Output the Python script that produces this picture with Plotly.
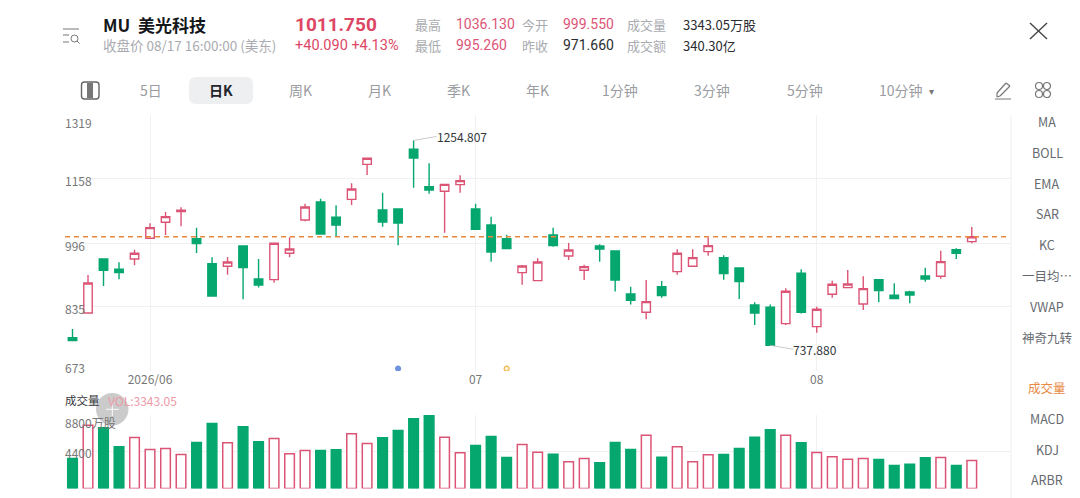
import plotly.graph_objects as go

# ---------- data ----------
indices = list(range(59))
opens = [757.2,819.4,955.7,929.6,955.7,1007.8,1048.2,1075.1,1007.0,943.9,937.2,988.5,905.2,903.5,970.0,1054.1,1099.5,1060.8,1106.2,1194.5,
         1079.3,1081.8,1232.4,1138.2,1126.4,1143.2,1081.8,1041.5,1007.0,921.2,901.0,1016.2,963.2,927.1,988.5,975.9,867.4,821.1,885.9,923.7,
         937.2,974.2,959.0,933.0,839.6,833.7,792.5,919.5,784.9,866.5,883.3,842.1,903.5,864.0,872.4,912.8,912.0,979.2,999.55]
highs = [779.1,915.3,955.7,947.3,979.2,1045.7,1074.3,1086.0,1034.7,959.9,960.7,988.5,955.7,995.2,1010.3,1095.3,1107.9,1091.1,1146.6,1210.5,
         1123.0,1081.8,1254.807,1197.0,1145.7,1166.8,1095.3,1062.5,1017.1,940.5,957.4,1034.7,996.0,941.4,992.7,975.9,885.9,902.7,900.2,980.1,
         980.1,1010.3,964.9,933.0,846.3,840.5,881.7,929.6,835.4,901.0,927.9,911.9,903.5,894.3,875.8,933.8,976.7,982.6,1036.13]
lows = [748.0,819.4,887.6,904.4,939.7,1007.8,1016.2,1038.1,970.8,862.3,916.1,853.9,883.4,896.0,959.9,1050.7,1018.7,1012.0,1091.9,1167.6,
        1037.2,990.2,1135.6,1120.5,1022.1,1123.0,1030.5,949.0,980.1,890.9,901.0,986.8,953.2,902.7,949.0,873.3,840.5,803.5,858.1,916.1,
        937.2,964.1,903.5,854.8,789.2,737.88,789.2,817.8,769.8,858.1,881.7,827.0,846.3,854.8,843.8,898.5,906.1,955.7,995.26]
closes = [749.6,895.1,927.1,921.2,970.0,1034.7,1062.5,1078.5,994.4,862.3,948.1,933.8,890.1,995.2,980.9,1086.9,1018.7,1041.5,1132.3,1209.7,
          1049.0,1046.5,1210.5,1129.8,1144.0,1153.3,1030.5,973.3,981.7,938.0,948.1,989.3,978.4,936.3,980.9,902.7,851.4,848.0,863.2,970.0,
          959.0,989.3,918.7,898.5,819.4,737.88,874.1,821.1,828.7,891.8,892.6,880.8,875.8,855.6,864.9,905.2,949.0,970.0,1011.75]
volumes = [3568,7532,7214,4955,6065,4638,4757,4043,5470,7730,5431,7333,5550,5946,4123,4519,4519,4598,6501,5351,
           6025,6897,8285,8642,6105,4241,5114,6184,3687,5232,4321,4083,3171,3568,3052,5470,4638,6342,3726,4955,
           3171,4004,4043,4757,6105,6977,6342,5431,4281,3766,3488,3568,3449,2735,2894,3647,3687,2735,3343.05]
last_close = 1011.75
price_ticks = [673, 835, 996, 1158, 1319]
vol_ticks = [0, 4400, 8800]
month_idx = [5, 26, 48]
month_labels = ["2026/06", "07", "08"]
event_idx = [21, 28]
event_price = [679, 679]
tabs = ["5日", "日K", "周K", "月K", "季K", "年K", "1分钟", "3分钟", "5分钟", "10分钟"]
side_menu = ["MA", "BOLL", "EMA", "SAR", "KC", "一目均…", "VWAP", "神奇九转", "成交量", "MACD", "KDJ", "ARBR"]

# ---------- styles ----------
W, H = 1080, 498
RED = "#dc5475"
GREEN = "#05a76e"
GRID = "#f0f1f2"
FONT = "Noto Sans CJK SC"
NUM_FONT = "Roboto"
px = lambda p: p / W
py = lambda p: 1 - p / H

fig = go.Figure()
fig.add_trace(go.Candlestick(
    x=indices, open=opens, high=highs, low=lows, close=closes,
    xaxis="x", yaxis="y", whiskerwidth=0,
    increasing=dict(line=dict(color=RED, width=1.4), fillcolor="white"),
    decreasing=dict(line=dict(color=GREEN, width=1.4), fillcolor=GREEN),
    showlegend=False,
))
fig.add_trace(go.Bar(
    x=indices, y=volumes, xaxis="x2", yaxis="y2", width=0.62,
    marker=dict(
        color=["white" if c >= o else GREEN for o, c in zip(opens, closes)],
        line=dict(color=[RED if c >= o else GREEN for o, c in zip(opens, closes)], width=1.5),
    ),
    showlegend=False,
))
fig.add_trace(go.Scatter(
    x=event_idx, y=event_price, xaxis="x", yaxis="y", mode="markers",
    marker=dict(size=5, color=["#6f93dd", "#fff4d8"], line=dict(color=["#6f93dd", "#f2b544"], width=1.2)),
    showlegend=False,
))

xrange = [-0.484, 60.53]
xcommon = dict(domain=[65 / W, 1011 / W], range=xrange, showgrid=True, gridcolor=GRID, gridwidth=1,
               zeroline=False, showline=False, ticks="", tickmode="array", tickvals=month_idx,
               fixedrange=True)
fig.update_layout(
    width=W, height=H, autosize=False, margin=dict(l=0, r=0, t=0, b=0),
    paper_bgcolor="white", plot_bgcolor="white", boxgap=0.22, showlegend=False,
    font=dict(family=FONT, color="#777"),
    xaxis=dict(**xcommon, anchor="y", ticktext=month_labels, tickfont=dict(size=12, color="#777"),
               rangeslider=dict(visible=False), ticklabelstandoff=0),
    xaxis2=dict(**xcommon, anchor="y2", showticklabels=False),
    yaxis=dict(domain=[1 - 371 / H, 1 - 115 / H], range=[673, 1319], tickmode="array", tickvals=price_ticks,
               showticklabels=False, showgrid=True, gridcolor=GRID, zeroline=False, showline=False, fixedrange=True),
    yaxis2=dict(domain=[1 - 488.5 / H, 1 - 414.5 / H], range=[0, 8800], tickmode="array", tickvals=vol_ticks,
                showticklabels=False, showgrid=True, gridcolor=GRID, zeroline=False, showline=False, fixedrange=True),
)

# ---------- text helpers ----------
annotations = []
def label(text, x, y, size=13, color="#777", anchor="left", bold=False, yref=None, yshift=0, family=FONT):
    annotations.append(dict(
        text=text, x=px(x), xref="paper", y=py(y) if yref is None else y, yref=yref or "paper",
        xanchor=anchor, yanchor="middle", showarrow=False, yshift=yshift, borderpad=0, borderwidth=0,
        font=dict(family=family, size=size, color=color, weight=700 if bold else 400),
    ))

# y-axis labels read through the axis scale
offsets = {673: -4, 835: 2, 996: 2, 1158: 2, 1319: 8}
for v in price_ticks:
    label(str(v), 65, v, size=12, color="#777", yref="y", yshift=-offsets[v])
label("8800万股", 65, vol_ticks[2], size=12, color="#777", yref="y2", yshift=-8)
label("4400", 65, vol_ticks[1], size=12, color="#777", yref="y2", yshift=-1)

# header
label("MU  美光科技", 103, 24, size=17, color="#15171a", bold=True)
label("1011.750", 295, 24, size=19, color="#dd4664", bold=True, family=NUM_FONT)
label("收盘价 08/17 16:00:00 (美东)", 103, 45, size=13.5, color="#a9abb0")
label("+40.090 +4.13%", 295, 45, size=14.5, color="#dd4664", family=NUM_FONT)
for t, x, y, c, f in [("最高", 415, 24, "#a9abb0", FONT), ("1036.130", 456, 24, "#dd5577", NUM_FONT), ("今开", 522, 24, "#a9abb0", FONT),
                      ("999.550", 563, 24, "#dd5577", NUM_FONT), ("成交量", 627, 24, "#a9abb0", FONT), ("3343.05万股", 683, 24, "#2a2c30", FONT),
                      ("最低", 415, 45, "#a9abb0", FONT), ("995.260", 456, 45, "#dd5577", NUM_FONT), ("昨收", 522, 45, "#a9abb0", FONT),
                      ("971.660", 563, 45, "#2a2c30", NUM_FONT), ("成交额", 627, 45, "#a9abb0", FONT), ("340.30亿", 683, 45, "#2a2c30", FONT)]:
    label(t, x, y, size=14 if f == NUM_FONT else 13, color=c, family=f)

# tabs
tab_x = [151, 221, 300, 379, 458, 537, 620, 712, 805, 901]
for t, x in zip(tabs, tab_x):
    active = t == "日K"
    label(t, x, 90, size=14, color="#22252a" if active else "#9a9ca1", anchor="center", bold=active)
label("▾", 931, 90, size=10, color="#777", anchor="center")

# side menu
menu_y = [121, 152, 183, 213, 244, 275, 306, 337, 387, 418, 449, 479]
for t, y in zip(side_menu, menu_y):
    label(t, 1047, y, size=12.5, color="#e98a45" if t == "成交量" else "#666a70", anchor="center")

# indicator title
label("成交量", 65, 400, size=11.5, color="#33363a")
label("VOL:3343.05", 108, 400, size=12, color="#ee9aa6")

# callouts, placed on the axis values
arrow = dict(showarrow=True, arrowhead=0, arrowwidth=0.8, arrowcolor="#bdbdbd", axref="pixel", ayref="pixel",
             font=dict(family=FONT, size=12, color="#33363a"), xanchor="left", yanchor="middle",
             borderpad=0, borderwidth=0, standoff=0)
annotations.append(dict(text="1254.807", x=22, xref="x", y=1254.807, yref="y", ax=23, ay=-4, **arrow))
annotations.append(dict(text="737.880", x=45, xref="x", y=737.88, yref="y", ax=23, ay=4, **arrow))
fig.update_layout(annotations=annotations)

# ---------- shapes ----------
def seg(x0, y0, x1, y1, color="#555", width=1.3):
    return dict(type="line", xref="paper", yref="paper", x0=px(x0), y0=py(y0), x1=px(x1), y1=py(y1),
                line=dict(color=color, width=width))

def rounded(x0, y0, x1, y1, r, fill, line=None, lw=0):
    path = (f"M {px(x0+r)} {py(y0)} L {px(x1-r)} {py(y0)} "
            f"Q {px(x1)} {py(y0)} {px(x1)} {py(y0+r)} L {px(x1)} {py(y1-r)} "
            f"Q {px(x1)} {py(y1)} {px(x1-r)} {py(y1)} L {px(x0+r)} {py(y1)} "
            f"Q {px(x0)} {py(y1)} {px(x0)} {py(y1-r)} L {px(x0)} {py(y0+r)} "
            f"Q {px(x0)} {py(y0)} {px(x0+r)} {py(y0)} Z")
    return dict(type="path", xref="paper", yref="paper", path=path, fillcolor=fill,
                line=dict(color=line or fill, width=lw), layer="below")

shapes = [
    dict(type="line", xref="x", yref="y", x0=-0.484, x1=60.27, y0=last_close, y1=last_close,
         line=dict(color="#e8883f", width=1.5, dash="5px,4px"), layer="above"),
    seg(1011, 115, 1011, 498, color="#eeeff1", width=1),
    rounded(189, 77, 253, 104, 7, "#edeff1"),
    # close button
    seg(1030, 23, 1047, 39, color="#444", width=1.4), seg(1047, 23, 1030, 39, color="#444", width=1.4),
    # list/search icon
    seg(63, 29, 79, 29, color="#777", width=1), seg(63, 35, 69, 35, color="#777", width=1),
    seg(63, 42, 69, 42, color="#777", width=1),
    dict(type="circle", xref="paper", yref="paper", x0=px(71), x1=px(78), y0=py(42), y1=py(35),
         line=dict(color="#777", width=1)),
    seg(77, 41, 79.5, 43.5, color="#777", width=1),
    # layout icon
    rounded(81.5, 82, 99, 99, 3, "white", line="#666", lw=1.4),
    dict(type="rect", xref="paper", yref="paper", x0=px(87), x1=px(93), y0=py(83), y1=py(98),
         fillcolor="#777", line=dict(width=0)),
    # pen icon
    seg(997, 93, 1006, 83, color="#777", width=1.2), seg(1000, 96, 1010, 86, color="#777", width=1.2),
    seg(1006, 83, 1010, 86, color="#777", width=1.2), seg(997, 93, 997, 97, color="#777", width=1.2),
    seg(997, 97, 1000, 96, color="#777", width=1.2), seg(995, 99, 1011, 99, color="#777", width=1),
]
# grid icon
for cx, cy in [(1039, 86), (1047, 86), (1039, 94), (1047, 94)]:
    shapes.append(dict(type="circle", xref="paper", yref="paper", x0=px(cx - 3.5), x1=px(cx + 3.5),
                       y0=py(cy + 3.5), y1=py(cy - 3.5), line=dict(color="#777", width=1.2)))
# floating + button
shapes += [
    dict(type="circle", xref="paper", yref="paper", x0=px(96), x1=px(128.5), y0=py(425.5), y1=py(393),
         fillcolor="rgba(160,160,160,0.55)", line=dict(width=0), layer="above"),
    seg(106, 409.3, 119, 409.3, color="rgba(255,255,255,0.9)", width=1),
    seg(112.3, 403, 112.3, 416, color="rgba(255,255,255,0.9)", width=1),
]
fig.update_layout(shapes=shapes)

fig.write_html("out.html", config={"displayModeBar": False},
               post_script="document.body.style.margin='0';document.body.style.overflow='hidden';")
